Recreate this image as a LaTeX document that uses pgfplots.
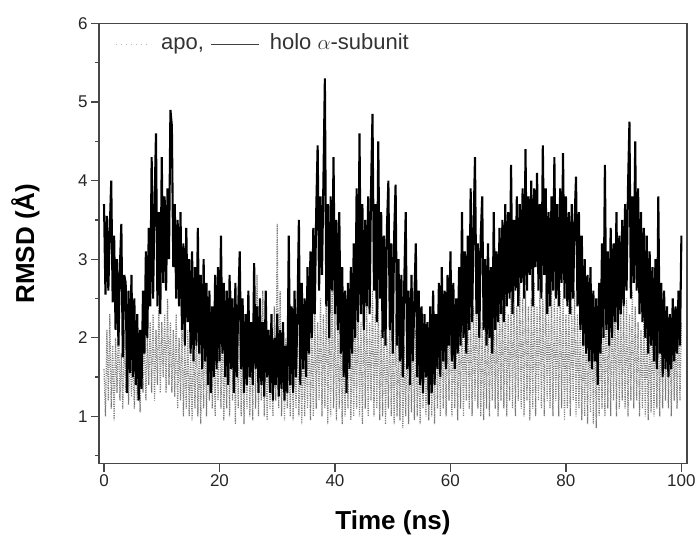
\documentclass[border=0pt]{standalone}
\usepackage{fontspec}
\setmainfont{Liberation Sans}
\usepackage{pgfplots}
\usepackage{pgfplotstable}
\pgfplotsset{compat=1.18}
\pgfplotstableread{
t holo apo
0.00 3.70 1.60
0.25 2.55 1.00
0.50 3.55 2.10
0.75 2.60 1.20
1.00 3.40 2.30
1.25 4.00 1.10
1.50 2.45 1.90
1.75 3.30 0.95
2.00 2.10 2.00
2.25 3.00 1.30
2.50 1.90 2.20
2.75 2.90 1.20
3.00 3.45 1.80
3.25 1.75 1.10
3.50 2.80 2.10
3.75 2.70 1.30
4.00 1.30 1.90
4.25 2.60 1.15
4.50 1.55 2.00
4.75 2.80 1.25
5.00 1.50 1.80
5.25 2.50 1.10
5.50 1.40 1.90
5.75 2.30 1.20
6.00 1.20 1.70
6.25 2.10 1.05
6.50 1.35 1.90
6.75 2.60 1.30
7.00 1.80 2.10
7.25 3.10 1.20
7.50 2.00 2.00
7.75 3.40 1.40
8.00 2.40 2.20
8.25 4.30 1.30
8.50 2.50 2.30
8.75 3.70 1.20
9.00 4.60 2.10
9.25 2.40 1.40
9.50 3.60 2.40
9.75 2.30 1.30
10.00 4.30 2.20
10.25 2.70 1.50
10.50 3.80 2.30
10.75 2.60 1.30
11.00 3.90 2.50
11.25 3.00 1.40
11.50 4.90 2.20
11.75 4.70 1.30
12.00 2.90 2.10
12.25 3.70 1.25
12.50 2.50 2.30
12.75 3.50 1.10
13.00 2.40 2.00
13.25 3.60 1.20
13.50 2.10 2.20
13.75 3.20 1.00
14.00 1.90 1.90
14.25 3.40 1.10
14.50 2.20 2.10
14.75 3.00 1.00
15.00 1.80 1.80
15.25 3.10 0.95
15.50 1.70 2.00
15.75 2.90 1.10
16.00 1.90 2.20
16.25 3.40 1.00
16.50 1.80 1.90
16.75 2.80 0.90
17.00 1.60 2.10
17.25 3.00 1.10
17.50 1.70 2.30
17.75 2.70 1.00
18.00 1.40 2.00
18.25 2.60 1.20
18.50 1.30 2.40
18.75 2.40 1.10
19.00 1.50 2.10
19.25 2.80 1.00
19.50 1.60 2.20
19.75 2.90 1.20
20.00 1.70 2.50
20.25 3.30 1.10
20.50 1.80 2.20
20.75 2.70 0.95
21.00 1.50 2.00
21.25 2.60 1.10
21.50 1.40 2.30
21.75 2.80 1.00
22.00 1.60 2.60
22.25 2.50 1.20
22.50 1.30 2.10
22.75 2.70 0.90
23.00 1.50 2.20
23.25 2.40 1.10
23.50 3.10 2.40
23.75 1.60 1.00
24.00 2.50 2.10
24.25 1.30 0.90
24.50 2.30 2.30
24.75 1.40 1.10
25.00 2.60 2.50
25.25 1.50 1.00
25.50 2.20 2.20
25.75 1.40 0.95
26.00 2.95 2.40
26.25 1.60 1.10
26.50 2.40 2.80
26.75 1.30 1.00
27.00 2.50 2.30
27.25 1.40 1.20
27.50 2.20 2.60
27.75 1.25 1.00
28.00 2.60 2.20
28.25 1.50 0.95
28.50 2.10 2.10
28.75 1.30 1.10
29.00 2.30 2.30
29.25 1.20 1.00
29.50 2.00 2.40
29.75 1.40 1.20
30.00 2.30 3.45
30.25 1.25 1.10
30.50 2.10 2.60
30.75 1.35 1.00
31.00 2.20 2.20
31.25 1.20 0.95
31.50 1.90 2.00
31.75 1.30 1.10
32.00 3.30 2.10
32.25 1.40 1.00
32.50 2.40 2.30
32.75 1.30 0.95
33.00 2.60 2.00
33.25 1.50 1.10
33.50 2.30 2.20
33.75 3.50 1.00
34.00 1.40 1.90
34.25 2.70 0.90
34.50 1.60 2.10
34.75 2.50 1.00
35.00 1.50 2.00
35.25 2.90 1.10
35.50 1.80 2.30
35.75 3.10 0.95
36.00 2.00 2.10
36.25 3.40 1.00
36.50 2.30 2.40
36.75 3.60 1.10
37.00 4.45 2.20
37.25 2.60 1.20
37.50 3.80 2.50
37.75 2.80 1.00
38.00 4.00 2.30
38.25 5.30 1.10
38.50 2.40 2.60
38.75 3.70 0.90
39.00 2.00 2.40
39.25 3.80 1.00
39.50 2.60 2.70
39.75 4.30 1.10
40.00 2.30 2.30
40.25 3.50 0.95
40.50 2.10 2.20
40.75 3.60 1.10
41.00 1.80 2.10
41.25 2.90 0.90
41.50 1.50 2.00
41.75 2.60 1.00
42.00 1.30 2.20
42.25 2.70 1.10
42.50 1.60 2.40
42.75 2.90 0.95
43.00 1.80 2.10
43.25 3.20 1.00
43.50 2.00 2.30
43.75 3.90 1.10
44.00 2.20 2.50
44.25 4.60 1.00
44.50 2.30 2.20
44.75 3.70 0.90
45.00 2.10 2.30
45.25 3.50 1.10
45.50 2.40 2.40
45.75 3.80 1.00
46.00 2.30 2.20
46.25 3.90 1.20
46.50 4.85 2.60
46.75 2.60 1.00
47.00 3.70 2.30
47.25 2.20 1.10
47.50 4.50 2.50
47.75 2.50 0.95
48.00 3.60 2.10
48.25 2.00 1.00
48.50 3.30 2.30
48.75 1.90 0.90
49.00 3.40 2.00
49.25 4.00 1.10
49.50 2.10 2.20
49.75 3.20 1.00
50.00 1.80 2.10
50.25 3.30 0.90
50.50 3.95 2.30
50.75 1.90 1.00
51.00 3.00 2.00
51.25 1.70 0.95
51.50 2.80 2.20
51.75 1.50 0.85
52.00 2.70 1.90
52.25 3.60 1.00
52.50 1.60 2.10
52.75 2.60 0.90
53.00 1.40 2.00
53.25 2.80 1.05
53.50 1.70 2.20
53.75 2.50 0.95
54.00 3.20 2.10
54.25 1.50 1.00
54.50 2.60 1.90
54.75 1.40 0.90
55.00 2.40 2.00
55.25 1.30 1.10
55.50 2.30 2.20
55.75 1.50 1.00
56.00 2.20 1.90
56.25 1.15 0.95
56.50 2.40 2.10
56.75 1.30 1.00
57.00 2.60 2.00
57.25 1.40 0.90
57.50 2.30 2.30
57.75 1.60 1.10
58.00 2.70 2.10
58.25 1.50 1.00
58.50 2.90 2.40
58.75 1.70 1.10
59.00 2.60 2.20
59.25 1.60 1.00
59.50 2.80 2.30
59.75 1.90 1.20
60.00 3.10 2.40
60.25 1.70 1.00
60.50 2.70 2.20
60.75 1.60 1.10
61.00 2.50 2.30
61.25 1.80 0.95
61.50 2.90 2.10
61.75 1.90 1.10
62.00 3.60 2.40
62.25 2.00 1.00
62.50 3.10 2.20
62.75 1.80 1.20
63.00 3.30 2.50
63.25 2.10 1.10
63.50 3.90 2.30
63.75 2.20 1.00
64.00 3.40 2.40
64.25 4.30 1.20
64.50 2.30 2.60
64.75 3.20 1.10
65.00 2.00 2.30
65.25 3.30 1.00
65.50 3.80 2.20
65.75 2.10 0.95
66.00 3.00 2.10
66.25 1.90 1.10
66.50 3.20 2.30
66.75 2.00 1.00
67.00 2.90 2.20
67.25 1.80 1.20
67.50 3.60 2.40
67.75 2.10 1.10
68.00 3.10 2.30
68.25 2.20 1.00
68.50 3.40 2.50
68.75 2.30 1.20
69.00 3.50 2.40
69.25 2.20 1.10
69.50 3.70 2.60
69.75 2.40 1.00
70.00 3.60 2.30
70.25 2.50 1.20
70.50 4.20 2.50
70.75 2.30 1.10
71.00 3.50 2.60
71.25 2.60 1.00
71.50 3.80 2.40
71.75 2.40 1.20
72.00 3.70 2.70
72.25 2.70 1.10
72.50 3.90 2.50
72.75 2.50 1.00
73.00 4.40 2.60
73.25 2.60 1.20
73.50 3.80 2.40
73.75 2.80 0.95
74.00 4.00 2.50
74.25 2.40 1.10
74.50 3.90 2.70
74.75 2.90 1.00
75.00 4.10 2.40
75.25 2.60 1.20
75.50 3.70 2.60
75.75 2.50 1.10
76.00 4.45 2.50
76.25 2.80 1.00
76.50 3.90 2.70
76.75 2.30 1.20
77.00 3.60 2.40
77.25 2.40 1.10
77.50 3.80 2.60
77.75 2.60 1.00
78.00 4.30 2.50
78.25 2.50 1.20
78.50 3.70 2.40
78.75 2.40 1.00
79.00 3.90 2.60
79.25 2.70 1.10
79.50 4.35 2.50
79.75 2.50 0.95
80.00 3.80 2.30
80.25 2.40 1.10
80.50 3.60 2.50
80.75 2.30 1.00
81.00 3.70 2.40
81.25 2.50 1.20
81.50 3.50 2.60
81.75 4.05 1.00
82.00 2.40 2.30
82.25 3.60 1.10
82.50 2.10 2.20
82.75 3.30 0.95
83.00 1.90 2.10
83.25 3.00 1.00
83.50 1.80 2.30
83.75 2.80 0.90
84.00 1.70 2.20
84.25 2.90 1.05
84.50 1.60 2.40
84.75 2.60 0.90
85.00 1.70 2.30
85.25 2.50 0.85
85.50 1.40 2.10
85.75 2.70 1.00
86.00 1.80 2.20
86.25 3.20 1.10
86.50 2.00 2.40
86.75 4.20 1.00
87.00 2.10 2.60
87.25 3.10 1.10
87.50 1.90 2.30
87.75 3.40 1.00
88.00 2.00 2.50
88.25 3.20 1.20
88.50 2.20 2.40
88.75 3.60 1.00
89.00 2.10 2.60
89.25 3.30 1.10
89.50 2.30 2.30
89.75 3.50 1.20
90.00 2.40 2.40
90.25 3.70 1.10
90.50 2.60 2.50
90.75 3.90 1.00
91.00 4.75 2.30
91.25 2.50 1.20
91.50 3.80 2.60
91.75 2.70 1.10
92.00 4.50 2.40
92.25 2.60 1.20
92.50 3.90 2.20
92.75 2.30 1.00
93.00 3.60 2.10
93.25 2.20 1.10
93.50 3.40 2.30
93.75 2.00 1.00
94.00 3.30 2.20
94.25 1.80 0.95
94.50 3.10 2.10
94.75 1.90 1.05
95.00 2.90 2.30
95.25 1.70 1.00
95.50 3.00 2.40
95.75 1.60 1.10
96.00 3.80 2.20
96.25 1.80 1.00
96.50 2.70 2.60
96.75 1.50 1.10
97.00 2.60 2.30
97.25 1.60 1.20
97.50 2.40 2.40
97.75 1.50 1.10
98.00 2.30 2.20
98.25 1.60 1.00
98.50 2.50 2.30
98.75 1.70 1.20
99.00 2.40 2.10
99.25 1.80 1.10
99.50 2.60 2.40
99.75 1.90 1.20
100.00 3.30 2.20
}\data
\begin{document}
\begin{tikzpicture}
\useasboundingbox (-99bp,-78.5bp) rectangle (600bp,463.5bp);
\begin{axis}[
  at={(0,0)}, anchor=south west,
  scale only axis, width=588bp, height=440bp,
  xmin=-0.87, xmax=100.97, ymin=0.4, ymax=6,
  xtick={0,20,...,100}, ytick={1,2,3,4,5,6},
  minor ytick={0.5,1.5,2.5,3.5,4.5,5.5},
  xtick pos=bottom, ytick pos=left, tick align=outside,
  major tick length=8bp, minor tick length=4bp,
  axis line style={line width=1.3bp, black!72},
  every tick/.style={line width=1.2bp, black!72},
  /pgf/number format/assume math mode=true,
  ticklabel style={font=\fontsize{17bp}{20bp}\selectfont, text=black!85},
  xlabel={Time (ns)}, ylabel={RMSD (Å)},
  label style={font=\fontsize{26bp}{30bp}\selectfont\bfseries},
  xlabel style={at={(axis description cs:0.5,-0.151)}, anchor=base},
  ylabel style={at={(axis description cs:-0.1105,0.5)}, anchor=base, rotate=0},
  legend columns=2,
  legend style={draw=none, fill=none, at={(axis description cs:0.027,0.953)}, anchor=west,
    inner sep=0bp, font=\fontsize{22bp}{26bp}\selectfont, text=black!80,
    nodes={inner sep=0bp, text height=16bp, text depth=5bp},
    /tikz/every odd column/.append style={column sep=10bp},
    /tikz/every even column/.append style={column sep=7bp}},
]
\addplot[black!52, line width=1.2bp, dash pattern=on 1.1bp off 1.2bp,
  legend image code/.code={\draw[gray!55, line width=1bp, dash pattern=on 1bp off 4bp] (0bp,0bp) -- (35bp,0bp);}]
  table[x=t, y=apo]{\data};
\addlegendentry{apo,}
\addplot[black, line width=2.1bp,
  legend image code/.code={\draw[black!75, line width=1bp] (0bp,0bp) -- (48bp,0bp);}]
  table[x=t, y=holo]{\data};
\addlegendentry{holo $\alpha$-subunit}
\end{axis}
\end{tikzpicture}
\end{document}
